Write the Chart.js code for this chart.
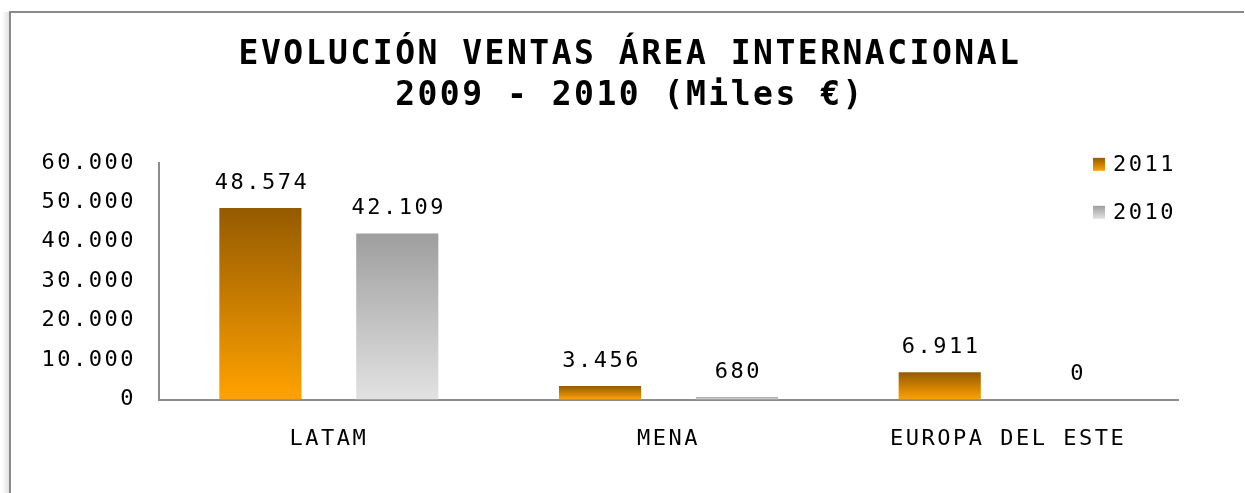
<!DOCTYPE html>
<html>
<head>
<meta charset="utf-8">
<script src="https://cdn.jsdelivr.net/npm/chart.js@4/dist/chart.umd.min.js"></script>
<style>
  html, body { margin: 0; padding: 0; background: #fff; }
  #wrap { width: 1245px; height: 493px; position: relative; }
</style>
</head>
<body>
<div id="wrap"><canvas id="chart"></canvas></div>
<script>
const categories = ['LATAM', 'MENA', 'EUROPA DEL ESTE'];
const seriesNames = ['2011', '2010'];
const values2011 = [48574, 3456, 6911];
const values2010 = [42109, 680, 0];
const titleLines = ['EVOLUCIÓN VENTAS ÁREA INTERNACIONAL', '2009 - 2010 (Miles €)'];

const FONT = '"DejaVu Sans Mono", monospace';
const SPACING = '2.5px';
const ORANGE = { top: '#955A00', bottom: '#FFA200' };
const GREY = { top: '#9E9E9E', bottom: '#E2E2E2' };

function formatNumber(v) {
  return String(Math.round(v)).replace(/\B(?=(\d{3})+(?!\d))/g, '.');
}

function barGradient(colors) {
  return (c) => {
    const chart = c.chart;
    if (!chart.chartArea || c.raw == null) return colors.bottom;
    const y = chart.scales.y;
    const y0 = y.getPixelForValue(c.raw);
    const y1 = y.getPixelForValue(0);
    if (y1 - y0 < 1) return colors.top;
    const g = chart.ctx.createLinearGradient(0, y0, 0, y1);
    g.addColorStop(0, colors.top);
    g.addColorStop(1, colors.bottom);
    return g;
  };
}

function setSpacing(chart) {
  chart.ctx.letterSpacing = SPACING;
}

const spacingPlugin = {
  id: 'spacing',
  beforeUpdate: setSpacing,
  beforeLayout: setSpacing,
  beforeDraw: setSpacing,
  afterLayout(chart) {
    // centre the title over the whole frame
    chart.titleBlock.left = 10;
    chart.titleBlock.right = 1250;
  },
};

const framePlugin = {
  id: 'frame',
  beforeDraw(chart) {
    const ctx = chart.ctx;
    ctx.save();
    const sh = ctx.createLinearGradient(2, 0, 9, 0);
    sh.addColorStop(0, 'rgba(0,0,0,0)');
    sh.addColorStop(1, 'rgba(0,0,0,0.12)');
    ctx.fillStyle = sh;
    ctx.fillRect(2, 12, 7, chart.height - 12);
    ctx.strokeStyle = '#8A8A8A';
    ctx.lineWidth = 2;
    ctx.beginPath();
    ctx.moveTo(10, chart.height);
    ctx.lineTo(10, 12);
    ctx.lineTo(1244, 12);
    ctx.stroke();
    ctx.restore();
  },
};

const valueLabelPlugin = {
  id: 'valueLabels',
  afterDatasetsDraw(chart) {
    const ctx = chart.ctx;
    ctx.save();
    ctx.letterSpacing = SPACING;
    ctx.font = `22px ${FONT}`;
    ctx.fillStyle = '#000';
    ctx.textAlign = 'center';
    ctx.textBaseline = 'middle';
    chart.data.datasets.forEach((ds, i) => {
      chart.getDatasetMeta(i).data.forEach((el, j) => {
        ctx.fillText(formatNumber(ds.data[j]), el.x + 1.5, el.y - 25);
      });
    });
    ctx.restore();
  },
};

const legendPlugin = {
  id: 'sideLegend',
  afterDraw(chart) {
    const ctx = chart.ctx;
    const area = chart.chartArea;
    const colors = [ORANGE, GREY];
    ctx.save();
    ctx.letterSpacing = SPACING;
    ctx.font = `22px ${FONT}`;
    ctx.fillStyle = '#000';
    ctx.textBaseline = 'middle';
    seriesNames.forEach((name, i) => {
      const x = area.right - 85;
      const y = area.top + 2 + i * 48;
      const g = ctx.createLinearGradient(0, y - 7, 0, y + 6);
      g.addColorStop(0, colors[i].top);
      g.addColorStop(1, colors[i].bottom);
      ctx.fillStyle = g;
      ctx.fillRect(x, y - 7, 12, 13);
      ctx.fillStyle = '#000';
      ctx.textAlign = 'left';
      ctx.fillText(name, x + 20, y);
    });
    ctx.restore();
  },
};

new Chart(document.getElementById('chart'), {
  type: 'bar',
  data: {
    labels: categories,
    datasets: [
      { label: seriesNames[0], data: values2011, backgroundColor: barGradient(ORANGE) },
      { label: seriesNames[1], data: values2010, backgroundColor: barGradient(GREY) },
    ],
  },
  options: {
    responsive: true,
    maintainAspectRatio: false,
    animation: false,
    categoryPercentage: 0.806,
    barPercentage: 0.6,
    layout: { padding: { left: 20, right: 67, top: 0, bottom: 15 } },
    plugins: {
      legend: { display: false },
      tooltip: { enabled: false },
      title: {
        display: true,
        text: titleLines,
        color: '#000',
        font: { family: FONT, size: 33, weight: 'bold', lineHeight: 1.24 },
        padding: { top: 35, bottom: 46 },
      },
    },
    scales: {
      x: {
        grid: { display: false, drawTicks: false },
        border: { color: '#8C8C8C', width: 2 },
        ticks: { color: '#000', padding: 26, font: { family: FONT, size: 22 } },
      },
      y: {
        min: 0,
        max: 60000,
        grid: { display: false, drawTicks: false },
        border: { color: '#8C8C8C', width: 2 },
        ticks: {
          stepSize: 10000,
          color: '#000',
          padding: 23,
          font: { family: FONT, size: 22 },
          callback: (v) => formatNumber(v),
        },
        afterFit(scale) { scale.width = 139; },
      },
    },
  },
  plugins: [spacingPlugin, framePlugin, valueLabelPlugin, legendPlugin],
});
</script>
</body>
</html>
